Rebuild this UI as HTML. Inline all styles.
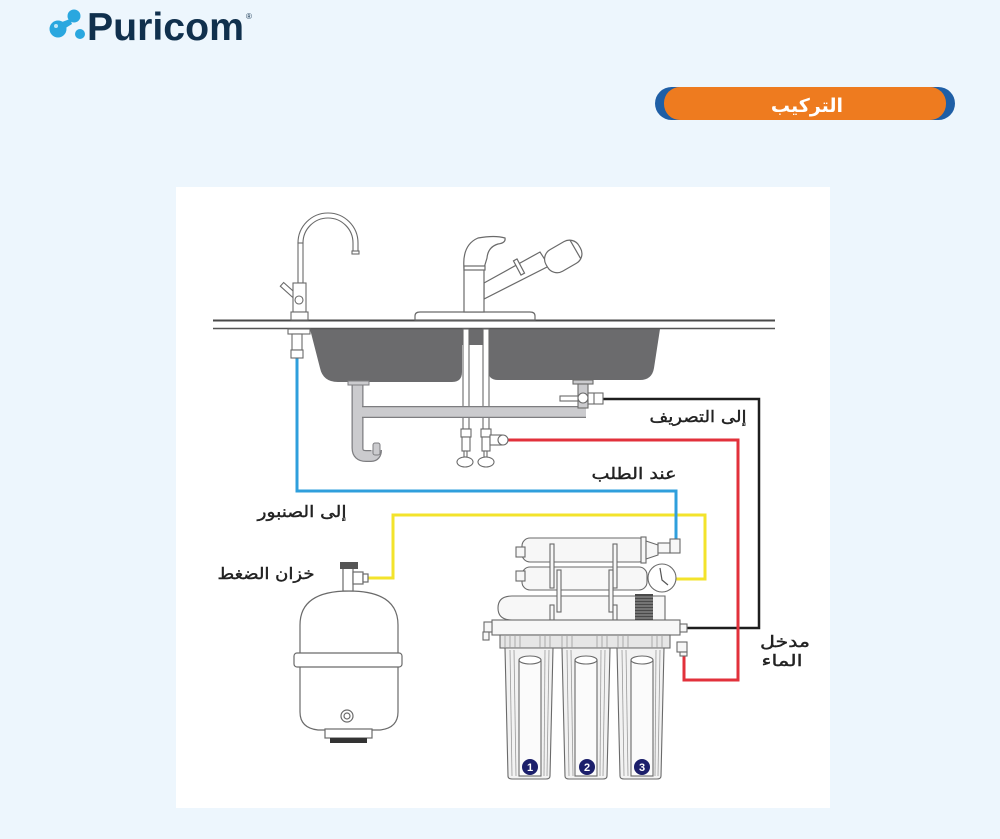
<!DOCTYPE html>
<html><head><meta charset="utf-8">
<style>
html,body{margin:0;padding:0;}
body{width:1000px;height:839px;background:#edf6fd;overflow:hidden;position:relative;font-family:"Liberation Sans","DejaVu Sans",sans-serif;}
svg{position:absolute;left:0;top:0;}
</style></head><body>
<svg width="1000" height="839" viewBox="0 0 1000 839" xmlns="http://www.w3.org/2000/svg">
<!-- logo -->
<g fill="#2aa7df">
<circle cx="58" cy="29" r="8.5"/>
<circle cx="74" cy="16" r="6.5"/>
<path d="M62,22 L70,19 L72,24 L64,29 Z"/>
<circle cx="80" cy="34" r="5"/>
</g>
<circle cx="56" cy="26" r="2" fill="#bfe6f7"/>
<text x="87" y="40" font-family="Liberation Sans, sans-serif" font-weight="bold" font-size="39" fill="#10304d" textLength="157" lengthAdjust="spacingAndGlyphs">Puricom</text>
<text x="246" y="19" font-family="Liberation Sans, sans-serif" font-size="8" fill="#10304d">®</text>

<!-- header pill -->
<rect x="655" y="87" width="300" height="33" rx="16.5" fill="#1f5fa6"/>
<rect x="664" y="87" width="282" height="33" rx="16" fill="#ee7b1f"/>
<text x="807" y="112" text-anchor="middle" font-family="DejaVu Sans, sans-serif" font-weight="bold" font-size="19" fill="#ffffff">التركيب</text>

<!-- panel -->
<rect x="176" y="187" width="654" height="621" fill="#ffffff"/>

<!-- colored lines -->
<g fill="none" stroke-linejoin="miter">
<path d="M603,399 L759,399 L759,628 L687,628" stroke="#1e1e1e" stroke-width="2.5"/>
<path d="M505,440 L738,440 L738,680 L684,680 L684,654" stroke="#e2313b" stroke-width="3"/>
<path d="M367,578 L393,578 L393,515 L705,515 L705,579 L676,579" stroke="#f3e32b" stroke-width="3"/>
<path d="M297,358 L297,491 L676,491 L676,540" stroke="#2f9fdc" stroke-width="3"/>
</g>

<!-- sink bowls -->
<g fill="#6b6b6d">
<path d="M310,329 L320,368 Q323,382 338,382 L452,382 Q462,382 462,372 L462,329 Z"/>
<path d="M488,329 L488,370 Q488,380 498,380 L640,380 Q652,380 654,368 L660,329 Z"/>
<rect x="462" y="329" width="26" height="16"/>
</g>
<!-- counter -->
<rect x="213" y="321" width="562" height="7" fill="#ffffff"/>
<line x1="213" y1="320.5" x2="775" y2="320.5" stroke="#4a4a4a" stroke-width="2"/>
<line x1="213" y1="328.5" x2="775" y2="328.5" stroke="#555" stroke-width="1.5"/>

<!-- main faucet -->
<g fill="#ffffff" stroke="#6a6a6a" stroke-width="1.2">
<path d="M415,320 L415,316 Q415,312 420,312 L530,312 Q535,312 535,316 L535,320 Z"/>
<path d="M484,283 L540,252 L549,266 L484,299 Z"/>
<rect x="517" y="259" width="4" height="16" transform="rotate(-28 519 267)"/>
<g transform="rotate(-30 563 256)"><rect x="544" y="244" width="38" height="25" rx="11"/><line x1="577" y1="246" x2="577" y2="267"/></g>
<rect x="464" y="268" width="20" height="44"/>
<path d="M464,268 Q462,245 478,238 Q495,235 505,238 Q506,243 498,244 Q488,247 487,258 L484,268 Z"/>
<rect x="464" y="266" width="21" height="4"/>
</g>

<!-- supply pipes -->
<g fill="#ffffff" stroke="#6a6a6a" stroke-width="1.1">
<rect x="463" y="329" width="6" height="100"/>
<rect x="483" y="329" width="6" height="100"/>
<rect x="461" y="429" width="10" height="8"/>
<rect x="462" y="437" width="8" height="14"/>
<rect x="481" y="429" width="10" height="8"/>
<rect x="482" y="437" width="8" height="14"/>
<rect x="490" y="435" width="12" height="10"/>
<circle cx="503" cy="440" r="5"/>
<rect x="464" y="451" width="3" height="6"/>
<rect x="484" y="451" width="3" height="6"/>
<ellipse cx="465" cy="462" rx="8" ry="5"/>
<ellipse cx="486" cy="462" rx="8" ry="5"/>
</g>

<!-- drain pipes -->
<g fill="none" stroke-linecap="butt">
<path d="M357.5,384 L357.5,448 Q357.5,456 366,456 L371,456 Q376,456 376,450" stroke="#7d7d80" stroke-width="12"/>
<path d="M357.5,384 L357.5,448 Q357.5,456 366,456 L371,456 Q376,456 376,450" stroke="#cbcbce" stroke-width="9.5"/>
<path d="M362,412 L586,412" stroke="#7d7d80" stroke-width="12"/>
<path d="M362,412 L586,412" stroke="#cbcbce" stroke-width="9.5"/>
</g>
<rect x="348" y="381" width="21" height="4" fill="#cbcbce" stroke="#7d7d80"/>
<rect x="373" y="443" width="7" height="12" rx="2" fill="#cbcbce" stroke="#7d7d80"/>
<g fill="#ffffff" stroke="#6a6a6a" stroke-width="1.1">
<rect x="573" y="380" width="20" height="4" fill="#cbcbce"/>
<rect x="578" y="384" width="10" height="24" fill="#cbcbce"/>
<rect x="560" y="396" width="18" height="5"/>
<circle cx="583" cy="398" r="5"/>
<rect x="588" y="393" width="15" height="11"/>
<line x1="594" y1="393" x2="594" y2="404"/>
</g>

<!-- RO faucet -->
<g fill="#ffffff" stroke="#6a6a6a" stroke-width="1.1">
<path d="M298,243 A30,30 0 0 1 358,243 L358,253 L353,253 L353,243 A25,25 0 0 0 303,243 Z"/>
<rect x="352" y="251" width="7" height="3"/>
<rect x="298" y="243" width="5" height="40"/>
<rect x="280" y="288" width="18" height="5" transform="rotate(42 289 290)"/>
<rect x="293" y="283" width="13" height="29"/>
<circle cx="299" cy="300" r="4"/>
<rect x="291" y="312" width="17" height="8"/>
<rect x="288" y="329" width="22" height="5"/>
<rect x="292" y="334" width="10" height="16"/>
<rect x="291" y="350" width="12" height="8"/>
</g>

<!-- tank -->
<g fill="#ffffff" stroke="#6a6a6a" stroke-width="1.2">
<path d="M300,625 C300,600 320,591 349,591 C378,591 398,600 398,625 L398,712 Q398,728 380,730 L318,730 Q300,728 300,712 Z"/>
<rect x="294" y="653" width="108" height="14" rx="3"/>
<rect x="325" y="729" width="47" height="9"/>
<rect x="343" y="568" width="10" height="23"/>
<rect x="353" y="572" width="10" height="12"/>
<rect x="363" y="574" width="5" height="8"/>
<circle cx="347" cy="716" r="6"/>
<circle cx="347" cy="716" r="3"/>
</g>
<rect x="340" y="562" width="18" height="7" fill="#555"/>
<rect x="330" y="738" width="37" height="5" fill="#333"/>

<!-- filter unit -->
<g fill="#f7f7f7" stroke="#6a6a6a" stroke-width="1.1">
<rect x="522" y="538" width="125" height="24" rx="8"/>
<rect x="641" y="537" width="5" height="26"/>
<path d="M646,541 L658,545 L658,555 L646,559 Z"/>
<rect x="658" y="543" width="12" height="10"/>
<rect x="670" y="539" width="10" height="14"/>
<rect x="516" y="547" width="9" height="10"/>
<rect x="522" y="567" width="125" height="23" rx="8"/>
<rect x="516" y="571" width="9" height="10"/>
<path d="M512,596 L665,596 L665,620 L512,620 Q498,620 498,608 Q498,596 512,596 Z"/>
<rect x="550" y="544" width="4" height="44"/>
<rect x="613" y="544" width="4" height="44"/>
<rect x="557" y="570" width="4" height="42"/>
<rect x="609" y="570" width="4" height="42"/>
<rect x="550" y="605" width="4" height="15"/>
<rect x="613" y="605" width="4" height="15"/>
<circle cx="662" cy="578" r="14" fill="#ffffff"/>
<rect x="492" y="620" width="188" height="15"/>
<rect x="484" y="622" width="8" height="10"/>
<rect x="483" y="632" width="6" height="8"/>
<rect x="680" y="624" width="7" height="8"/>
<rect x="677" y="642" width="10" height="10"/>
<rect x="680" y="652" width="7" height="4"/>
</g>
<path d="M660,568 L662,580 L668,585" fill="none" stroke="#555" stroke-width="1.2"/>
<rect x="635" y="594" width="18" height="26" fill="#4a4a4a"/>
<g stroke="#bbb" stroke-width="0.8">
<line x1="635" y1="597" x2="653" y2="597"/><line x1="635" y1="600" x2="653" y2="600"/><line x1="635" y1="603" x2="653" y2="603"/><line x1="635" y1="606" x2="653" y2="606"/><line x1="635" y1="609" x2="653" y2="609"/><line x1="635" y1="612" x2="653" y2="612"/><line x1="635" y1="615" x2="653" y2="615"/><line x1="635" y1="618" x2="653" y2="618"/>
</g>

<!-- housings -->
<g stroke="#6a6a6a" stroke-width="1.1">
<rect x="500" y="635" width="170" height="13" fill="#e6e6e6"/>
<path d="M505,648 L553,648 L550,776 Q550,779 546,779 L512,779 Q508,779 508,776 Z" fill="#f2f2f2"/>
<path d="M562,648 L610,648 L607,776 Q607,779 603,779 L569,779 Q565,779 565,776 Z" fill="#f2f2f2"/>
<path d="M617,648 L664,648 L661,776 Q661,779 657,779 L624,779 Q620,779 620,776 Z" fill="#f2f2f2"/>
<rect x="519" y="660" width="22" height="116" fill="#fbfbfb"/>
<rect x="575" y="660" width="22" height="116" fill="#fbfbfb"/>
<rect x="631" y="660" width="22" height="116" fill="#fbfbfb"/>
<ellipse cx="530" cy="660" rx="11" ry="4" fill="#fff"/>
<ellipse cx="586" cy="660" rx="11" ry="4" fill="#fff"/>
<ellipse cx="642" cy="660" rx="11" ry="4" fill="#fff"/>
</g>
<g stroke="#9a9a9a" stroke-width="0.8">
<line x1="510" y1="650" x2="512" y2="776"/><line x1="514" y1="650" x2="516" y2="776"/><line x1="545" y1="650" x2="544" y2="776"/><line x1="549" y1="650" x2="547" y2="776"/>
<line x1="567" y1="650" x2="569" y2="776"/><line x1="571" y1="650" x2="573" y2="776"/><line x1="601" y1="650" x2="600" y2="776"/><line x1="605" y1="650" x2="603" y2="776"/>
<line x1="622" y1="650" x2="624" y2="776"/><line x1="626" y1="650" x2="628" y2="776"/><line x1="656" y1="650" x2="655" y2="776"/><line x1="660" y1="650" x2="658" y2="776"/>
<line x1="505" y1="636" x2="505" y2="648"/><line x1="510" y1="636" x2="510" y2="648"/><line x1="515" y1="636" x2="515" y2="648"/><line x1="520" y1="636" x2="520" y2="648"/><line x1="540" y1="636" x2="540" y2="648"/><line x1="545" y1="636" x2="545" y2="648"/><line x1="550" y1="636" x2="550" y2="648"/>
<line x1="562" y1="636" x2="562" y2="648"/><line x1="567" y1="636" x2="567" y2="648"/><line x1="572" y1="636" x2="572" y2="648"/><line x1="597" y1="636" x2="597" y2="648"/><line x1="602" y1="636" x2="602" y2="648"/><line x1="607" y1="636" x2="607" y2="648"/>
<line x1="618" y1="636" x2="618" y2="648"/><line x1="623" y1="636" x2="623" y2="648"/><line x1="628" y1="636" x2="628" y2="648"/><line x1="652" y1="636" x2="652" y2="648"/><line x1="657" y1="636" x2="657" y2="648"/><line x1="662" y1="636" x2="662" y2="648"/>
</g>
<g fill="#1c1f6b">
<circle cx="530" cy="767" r="8"/><circle cx="587" cy="767" r="8"/><circle cx="642" cy="767" r="8"/>
</g>
<g font-family="Liberation Sans, sans-serif" font-weight="bold" font-size="11" fill="#fff" text-anchor="middle">
<text x="530" y="771">1</text><text x="587" y="771">2</text><text x="642" y="771">3</text>
</g>

<!-- labels -->
<g font-family="DejaVu Sans, sans-serif" font-size="16" fill="#222" stroke="#222" stroke-width="0.4" text-anchor="middle">
<text x="698" y="422" textLength="97" lengthAdjust="spacingAndGlyphs">إلى التصريف</text>
<text x="634" y="479" textLength="85" lengthAdjust="spacingAndGlyphs">عند الطلب</text>
<text x="302" y="517" textLength="89" lengthAdjust="spacingAndGlyphs">إلى الصنبور</text>
<text x="266" y="579" textLength="97" lengthAdjust="spacingAndGlyphs">خزان الضغط</text>
<text x="785" y="647" textLength="50" lengthAdjust="spacingAndGlyphs">مدخل</text>
<text x="782" y="666" textLength="41" lengthAdjust="spacingAndGlyphs">الماء</text>
</g>
</svg>
</body></html>
